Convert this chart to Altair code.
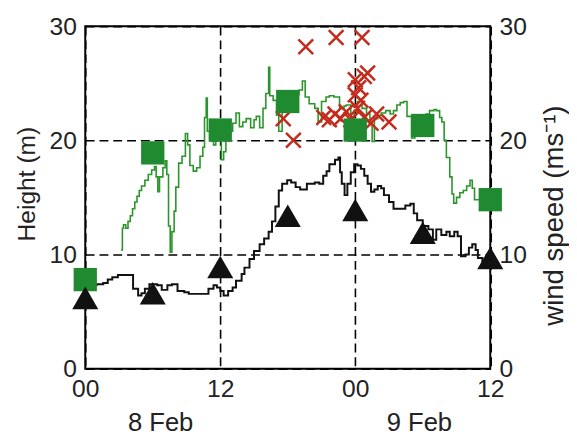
import altair as alt
import pandas as pd

# ---- data ----
green_hour = [3.17, 3.3, 3.4, 3.6, 3.8, 4.0, 4.2, 4.4, 4.6, 4.8, 5.0, 5.3, 5.6, 5.9, 6.15, 6.3, 6.45, 6.6, 6.9, 7.1,
              7.25, 7.4, 7.55, 7.7, 7.9, 8.05, 8.3, 8.6, 8.9, 9.1, 9.3, 9.6, 9.9, 10.2, 10.45, 10.6, 10.75, 10.85,
              11.1, 11.4, 11.6, 11.8, 12.1, 12.3, 12.5, 12.8, 13.1, 13.4, 13.7, 14.0, 14.3, 14.7, 15.0, 15.2, 15.5,
              15.8, 16.05, 16.3, 16.4, 16.7, 17.0, 17.2, 17.5, 17.8, 18.2, 18.6, 19.0, 19.3, 19.55, 19.9, 20.4, 20.7,
              21.0, 21.4, 21.7, 22.1, 22.6, 23.0, 23.2, 23.6, 23.9, 24.2, 24.6, 25.0, 25.3, 25.5, 25.7, 26.0, 26.3,
              26.7, 27.1, 27.4, 27.7, 28.0, 28.3, 28.6, 29.0, 29.3, 29.6, 30.0, 30.3, 30.6, 31.0, 31.2, 31.5, 31.7,
              31.9, 32.1, 32.4, 32.6, 32.75, 33.0, 33.3, 33.6, 33.9, 34.2, 34.4, 34.6, 35.0]
green_val = [10.4, 12.3, 12.6, 12.3, 12.9, 13.4, 14.0, 14.6, 15.1, 15.6, 16.0, 16.5, 17.0, 17.4, 17.7, 16.8, 15.5,
             16.8, 17.6, 18.2, 17.0, 12.5, 10.2, 12.0, 13.8, 15.9, 18.0, 18.6, 20.6, 19.6, 17.8, 17.3, 17.6, 18.6,
             19.4, 22.0, 23.7, 20.8, 20.2, 19.6, 21.0, 21.3, 18.3, 19.0, 21.3, 20.8, 21.5, 22.4, 21.2, 21.6, 21.9,
             21.1, 21.8, 22.1, 21.1, 22.8, 24.1, 26.4, 23.9, 23.5, 22.2, 20.8, 22.5, 23.5, 23.8, 24.0, 24.4, 25.2,
             23.8, 23.2, 22.8, 21.6, 23.4, 23.8, 23.9, 23.8, 22.8, 23.0, 23.1, 21.9, 22.6, 23.4, 22.8, 22.3, 21.5,
             19.9, 21.9, 22.2, 22.4, 22.6, 22.3, 22.6, 23.1, 23.3, 23.4, 22.1, 20.2, 21.3, 21.0, 21.3, 22.3, 22.6,
             22.7, 22.6, 22.0, 21.6, 20.0, 18.5, 16.8, 15.3, 14.5, 15.0, 15.4, 15.6, 16.0, 16.5, 15.8, 14.8, 14.8]

black_hour = [0, 0.5, 1.0, 1.6, 2.0, 2.4, 2.9, 3.5, 3.95, 4.25, 4.7, 5.0, 5.3, 5.7, 6.0, 6.4, 6.8, 7.3, 7.7, 8.2,
              8.8, 9.2, 9.9, 10.65, 10.95, 11.4, 11.7, 12.0, 12.3, 12.7, 13.1, 13.4, 13.9, 14.15, 14.6, 15.0, 15.5,
              15.9, 16.3, 16.6, 16.9, 17.2, 17.5, 17.95, 18.3, 18.7, 19.1, 19.7, 20.4, 20.8, 21.15, 21.45, 21.7,
              22.2, 22.5, 22.65, 22.8, 23.05, 23.3, 23.6, 23.9, 24.2, 24.5, 24.8, 25.1, 25.4, 25.7, 26.0, 26.3,
              26.55, 27.0, 27.4, 28.0, 28.45, 28.9, 29.2, 29.5, 30.0, 30.5, 30.9, 31.2, 31.65, 32.1, 32.4, 32.8,
              33.1, 33.4, 33.8, 34.1, 34.4, 34.7, 34.9, 35.3, 35.7, 35.95]
black_val = [7.4, 7.3, 7.4, 7.5, 7.8, 8.0, 8.2, 8.2, 8.2, 7.0, 6.4, 6.6, 7.0, 7.4, 7.4, 7.3, 6.9, 7.3, 7.4, 6.8,
             6.7, 6.55, 6.55, 6.55, 7.0, 7.3, 7.1, 6.8, 6.4, 6.8, 7.1, 7.7, 8.3, 8.85, 9.6, 10.3, 10.9, 11.4, 12.0,
             12.9, 14.2, 15.6, 16.2, 16.5, 16.3, 15.9, 15.7, 16.2, 16.3, 16.2, 16.9, 17.3, 17.9, 18.3, 18.5, 17.2,
             16.2, 15.2, 16.2, 17.2, 17.9, 17.8, 17.5, 16.9, 16.2, 15.5, 15.7, 16.0, 15.8, 15.2, 14.6, 14.0, 14.0,
             14.3, 14.45, 13.6, 13.0, 12.5, 12.2, 11.3, 12.2, 11.7, 12.0, 11.6, 12.0, 11.6, 9.85, 10.0, 10.6, 10.9,
             10.4, 9.7, 9.4, 10.0, 9.5]

square_hour = [0, 6, 12, 18, 24, 30, 36]
square_val = [7.8, 18.9, 20.9, 23.4, 20.9, 21.3, 14.8]

triangle_hour = [0, 6, 12, 18, 24, 30, 36]
triangle_val = [6.2, 6.6, 8.9, 13.4, 13.9, 11.9, 9.7]

cross_hour = [19.6, 22.3, 24.6, 18.5, 17.6, 21.2, 21.7, 22.2, 22.7, 23.2, 23.6, 24.0, 24.3, 24.8, 25.1, 24.5,
              24.2, 24.8, 25.4, 25.9, 27.0, 24.0]
cross_val = [28.2, 29.0, 29.0, 20.0, 21.9, 22.0, 21.8, 22.3, 21.9, 22.5, 21.8, 25.3, 24.6, 25.6, 25.9, 23.5,
             22.8, 22.0, 21.5, 22.3, 21.6, 24.0]

x_ticks = [0, 12, 24, 36]
x_tick_labels = ["00", "12", "00", "12"]
y_ticks = [0, 10, 20, 30]
day_labels = ["8 Feb", "9 Feb"]
day_pos = [6.7, 29.7]

left_title = "Height (m)"
right_title = "wind speed (ms⁻¹)"

# ---- tables ----
green = pd.DataFrame({"h": green_hour, "v": green_val})
black = pd.DataFrame({"h": black_hour, "v": black_val})
squares = pd.DataFrame({"h": square_hour, "v": square_val})
tris = pd.DataFrame({"h": triangle_hour, "v": triangle_val})
crosses = pd.DataFrame({"h": cross_hour, "v": cross_val})
days = pd.DataFrame({"h": day_pos, "t": day_labels})

FONT = "Liberation Sans"
GREEN_LINE = "#2a952a"
GREEN_SQ = "#1f8a30"
RED = "#c42b1c"

xs = alt.Scale(domain=[0, 36], nice=False, zero=False)
ys = alt.Scale(domain=[0, 30], nice=False)

label_expr = "[" + ",".join("'%s'" % s for s in x_tick_labels) + "][indexof([" + \
    ",".join(str(v) for v in x_ticks) + "], datum.value)]"

x_axis = alt.Axis(values=x_ticks, labelExpr=label_expr, title=None, grid=True,
                  labelFontSize=25, labelPadding=8, labelFlush=False, labelOverlap=False)
y_left = alt.Axis(values=y_ticks, title=left_title, grid=True, labelFontSize=25,
                  labelPadding=9, labelFlush=False, labelOverlap=False,
                  titleFontSize=25, titleX=-60, titleY=160, titleAngle=270,
                  titleAlign="center", titleBaseline="middle")
y_right = alt.Axis(values=y_ticks, orient="right", title=right_title, grid=False,
                   labelFontSize=25, labelPadding=9, labelFlush=False, labelOverlap=False,
                   titleFontSize=28, titleX=65, titleY=192, titleAngle=270,
                   titleAlign="center", titleBaseline="middle")


def X():
    return alt.X("h:Q", scale=xs, axis=x_axis)


green_line = alt.Chart(green).mark_line(color=GREEN_LINE, strokeWidth=1.6, interpolate="step-after").encode(
    x=X(),
    y=alt.Y("v:Q", scale=ys, axis=y_left),
)
black_line = alt.Chart(black).mark_line(color="#111111", strokeWidth=2, interpolate="step-after").encode(
    x=X(),
    y=alt.Y("v:Q", scale=ys, axis=None),
)
sq = alt.Chart(squares).mark_point(shape="square", filled=True, color=GREEN_SQ, opacity=1, size=560).encode(
    x=X(),
    y=alt.Y("v:Q", scale=ys, axis=y_right),
)
tri = alt.Chart(tris).mark_point(shape="triangle-up", filled=True, color="#111111", opacity=1, size=700).encode(
    x=X(),
    y=alt.Y("v:Q", scale=ys, axis=None),
)
cr = alt.Chart(crosses).mark_point(shape="M-1,-1L1,1M-1,1L1,-1", filled=False, color=RED,
                                   strokeWidth=2.5, opacity=1, size=225).encode(
    x=X(),
    y=alt.Y("v:Q", scale=ys, axis=None),
)
day_text = alt.Chart(days).mark_text(font=FONT, fontSize=26, color="#222222", baseline="middle",
                                     align="center").encode(
    x=X(),
    y=alt.value(403),
    text="t:N",
)

chart = alt.layer(green_line, black_line, cr, sq, tri, day_text).resolve_scale(
    y="independent"
).properties(
    width=411.5, height=348,
    padding={"left": 78.5, "top": 15, "right": 80, "bottom": 66},
    autosize=alt.AutoSizeParams(type="none"),
).configure_axis(
    labelFont=FONT, titleFont=FONT, labelColor="#222222", titleColor="#222222",
    titleFontWeight="normal", domain=False, ticks=False,
    gridColor="black", gridDash=[9, 5], gridWidth=1.6, gridOpacity=1,
).configure_view(stroke="black", strokeWidth=2)

chart.save("out.html", embed_options={"renderer": "svg", "actions": False})
